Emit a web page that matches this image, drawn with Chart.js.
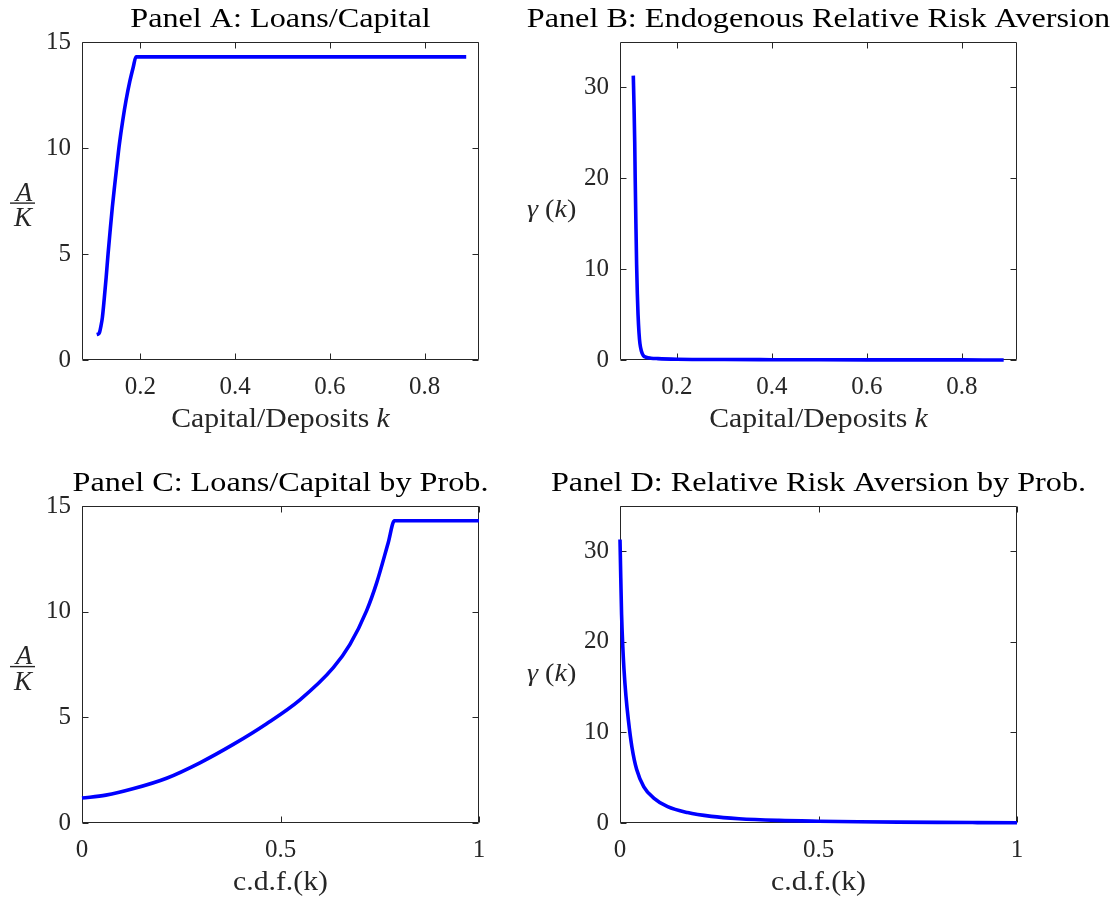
<!DOCTYPE html>
<html>
<head>
<meta charset="utf-8">
<script src="https://cdn.jsdelivr.net/npm/chart.js@4.4.1/dist/chart.umd.min.js"></script>
<style>
  html, body { margin: 0; padding: 0; background: #fff; }
  #wrap { position: relative; width: 1114px; height: 903px; overflow: hidden; background: #fff; }
  canvas { position: absolute; }
</style>
</head>
<body>
<div id="wrap">
  <canvas id="panelA" width="520" height="451" style="left:0;top:0"></canvas>
  <canvas id="panelB" width="594" height="451" style="left:520px;top:0"></canvas>
  <canvas id="panelC" width="520" height="452" style="left:0;top:451px"></canvas>
  <canvas id="panelD" width="594" height="452" style="left:520px;top:451px"></canvas>
</div>
<script>
// Panel A: loans/capital A/K against capital/deposits k
const kA = [0.108, 0.111, 0.114, 0.117, 0.120, 0.124, 0.128, 0.132, 0.136, 0.141, 0.146, 0.151, 0.156, 0.163, 0.170, 0.178, 0.185, 0.191, 0.888];
const leverageA = [1.20, 1.22, 1.30, 1.60, 2.00, 2.90, 3.90, 5.00, 6.00, 7.20, 8.25, 9.25, 10.20, 11.30, 12.25, 13.15, 13.80, 14.30, 14.30];

// Panel B: endogenous relative risk aversion gamma(k)
const kB = [0.108, 0.1095, 0.111, 0.112, 0.1135, 0.115, 0.1165, 0.118, 0.120, 0.122, 0.125, 0.129, 0.135, 0.145, 0.160, 0.200, 0.300, 0.400, 0.500, 0.600, 0.700, 0.800, 0.888];
const gammaB = [31.3, 28.0, 24.0, 20.0, 15.0, 10.5, 7.3, 5.0, 3.0, 1.8, 1.0, 0.5, 0.3, 0.2, 0.15, 0.09, 0.05, 0.035, 0.025, 0.018, 0.013, 0.009, 0.006];

// Panel C: loans/capital against the c.d.f. of k
const cdfC = [0, 0.06, 0.128, 0.213, 0.297, 0.381, 0.465, 0.549, 0.633, 0.675, 0.717, 0.742, 0.771, 0.787, 1.0];
const leverageC = [1.18, 1.32, 1.62, 2.12, 2.85, 3.72, 4.70, 5.83, 7.35, 8.45, 10.05, 11.35, 13.24, 14.30, 14.30];

// Panel D: relative risk aversion against the c.d.f. of k
const cdfD = [0, 0.002, 0.004, 0.007, 0.010, 0.015, 0.021, 0.030, 0.042, 0.060, 0.085, 0.120, 0.170, 0.230, 0.300, 0.400, 0.500, 0.600, 0.700, 0.800, 0.900, 1.000];
const gammaD = [31.3, 27.0, 23.0, 19.5, 17.0, 14.0, 11.4, 8.4, 5.9, 4.0, 2.75, 1.8, 1.15, 0.73, 0.47, 0.29, 0.20, 0.14, 0.10, 0.07, 0.045, 0.02];

// Tick values
const kTicks = [0.2, 0.4, 0.6, 0.8];
const cdfTicks = [0, 0.5, 1];
const leverageTicks = [0, 5, 10, 15];
const gammaTicks = [0, 10, 20, 30];

const INK = '#262626';
const SERIF = '"Liberation Serif", "Times New Roman", serif';

// Draw a run of text pieces (each with its own font), widened horizontally
function stretchedText(ctx, parts, x, y, stretch, align) {
  let w = 0;
  parts.forEach(p => { ctx.font = p.font; p.w = ctx.measureText(p.text).width; w += p.w; });
  const start = align === 'center' ? x - w * stretch / 2 : x;
  ctx.save();
  ctx.translate(start, y);
  ctx.scale(stretch, 1);
  ctx.textAlign = 'left';
  ctx.textBaseline = 'alphabetic';
  let cx = 0;
  parts.forEach(p => { ctx.font = p.font; ctx.fillText(p.text, cx, 0); cx += p.w; });
  ctx.restore();
}

// Boxed axes with inward tick marks on all four sides, plus titles and axis labels
const framePlugin = {
  id: 'frame',
  beforeDatasetsDraw(chart) {
    const { ctx, chartArea: a, scales: { x, y } } = chart;
    const L = Math.round(a.left) + 0.5, R = Math.round(a.right) - 0.5;
    const T = Math.round(a.top) + 0.5, B = Math.round(a.bottom) - 0.5;
    const t = 6;
    ctx.save();
    ctx.strokeStyle = INK;
    ctx.lineWidth = 1;
    ctx.beginPath();
    ctx.rect(L, T, R - L, B - T);
    x.ticks.forEach(tk => {
      const px = Math.round(x.getPixelForValue(tk.value)) + 0.5;
      ctx.moveTo(px, B); ctx.lineTo(px, B - t);
      ctx.moveTo(px, T); ctx.lineTo(px, T + t);
    });
    y.ticks.forEach(tk => {
      const py = Math.round(y.getPixelForValue(tk.value)) + 0.5;
      ctx.moveTo(L, py); ctx.lineTo(L + t, py);
      ctx.moveTo(R, py); ctx.lineTo(R - t, py);
    });
    ctx.stroke();
    ctx.restore();
  },
  afterDraw(chart, args, opts) {
    const { ctx, chartArea: a } = chart;
    const cx = (a.left + a.right) / 2;
    const mid = (a.top + a.bottom) / 2;
    ctx.save();
    // panel title
    ctx.fillStyle = '#000';
    stretchedText(ctx, [{ text: opts.title, font: '28px ' + SERIF }], cx, a.top - 15, 1.15, 'center');
    // x-axis label
    ctx.fillStyle = INK;
    stretchedText(ctx, opts.xLabel, cx, a.bottom + 67, 1.1, 'center');
    // y-axis label
    if (opts.yLabel === 'fraction') {
      const fx = 22, bar = mid + 2;
      ctx.font = 'italic 27px ' + SERIF;
      ctx.textAlign = 'center';
      ctx.textBaseline = 'alphabetic';
      ctx.fillText('A', fx + 2, bar - 2.5);
      ctx.fillText('K', fx + 1, bar + 23);
      ctx.fillRect(fx - 12, bar - 0.6, 25, 1.4);
    } else {
      stretchedText(ctx, [
        { text: '\u03B3', font: 'italic 26px ' + SERIF },
        { text: ' (', font: '26px ' + SERIF },
        { text: 'k', font: 'italic 26px ' + SERIF },
        { text: ')', font: '26px ' + SERIF }
      ], a.left - 93, mid + 16, 1.08, 'left');
    }
    ctx.restore();
  }
};

function panel(id, xs, ys, xRange, yRange, xTicks, yTicks, dims, text) {
  return new Chart(document.getElementById(id), {
    type: 'line',
    data: {
      datasets: [{
        data: xs.map((v, i) => ({ x: v, y: ys[i] })),
        borderColor: '#0000ff',
        borderWidth: 3.6,
        pointRadius: 0,
        fill: false,
        cubicInterpolationMode: 'monotone',
        clip: false
      }]
    },
    options: {
      responsive: false,
      animation: false,
      events: [],
      layout: { padding: { left: 0, top: dims.top, right: dims.right, bottom: 0 } },
      plugins: {
        legend: { display: false },
        tooltip: { enabled: false },
        title: { display: false },
        frame: text
      },
      scales: {
        x: {
          type: 'linear',
          min: xRange[0], max: xRange[1],
          grid: { display: false, drawTicks: false },
          border: { display: false },
          afterBuildTicks: s => { s.ticks = xTicks.map(v => ({ value: v })); },
          afterFit: s => { s.height = dims.bottom; },
          ticks: {
            padding: 12, autoSkip: false, maxRotation: 0, color: INK,
            font: { family: SERIF, size: 25 },
            callback: v => String(v)
          }
        },
        y: {
          type: 'linear',
          min: yRange[0], max: yRange[1],
          grid: { display: false, drawTicks: false },
          border: { display: false },
          afterBuildTicks: s => { s.ticks = yTicks.map(v => ({ value: v })); },
          afterFit: s => { s.width = dims.left; },
          ticks: {
            padding: 11, autoSkip: false, color: INK,
            font: { family: SERIF, size: 25 },
            callback: v => String(v)
          }
        }
      }
    },
    plugins: [framePlugin]
  });
}

const kLabel = [
  { text: 'Capital/Deposits ', font: '27px ' + SERIF },
  { text: 'k', font: 'italic 27px ' + SERIF }
];
const cdfLabel = [{ text: 'c.d.f.(k)', font: '27px ' + SERIF }];

panel('panelA', kA, leverageA, [0.077, 0.915], [0, 15], kTicks, leverageTicks,
  { left: 82, right: 41, top: 42, bottom: 91 },
  { title: 'Panel A: Loans/Capital', xLabel: kLabel, yLabel: 'fraction' });

panel('panelB', kB, gammaB, [0.080, 0.916], [0, 35], kTicks, gammaTicks,
  { left: 100, right: 97, top: 42, bottom: 91 },
  { title: 'Panel B: Endogenous Relative Risk Aversion', xLabel: kLabel, yLabel: 'gamma' });

panel('panelC', cdfC, leverageC, [0, 1], [0, 15], cdfTicks, leverageTicks,
  { left: 82, right: 41, top: 55, bottom: 80 },
  { title: 'Panel C: Loans/Capital by Prob.', xLabel: cdfLabel, yLabel: 'fraction' });

panel('panelD', cdfD, gammaD, [0, 1], [0, 35], cdfTicks, gammaTicks,
  { left: 100, right: 97, top: 55, bottom: 80 },
  { title: 'Panel D: Relative Risk Aversion by Prob.', xLabel: cdfLabel, yLabel: 'gamma' });
</script>
</body>
</html>
